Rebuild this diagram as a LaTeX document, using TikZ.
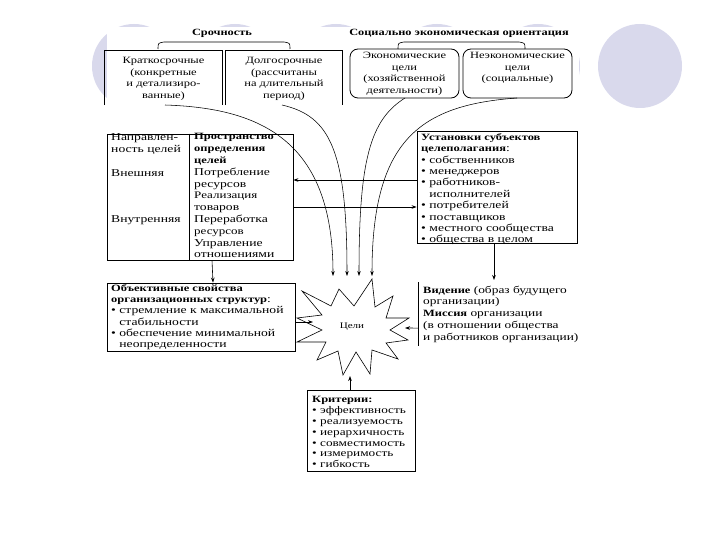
\documentclass[tikz,border=0pt]{standalone}
\usepackage{fontspec}
\setmainfont{Liberation Serif}[FakeStretch=1.3]
\usetikzlibrary{arrows.meta,calc}
\definecolor{lav}{RGB}{217,217,236}
\tikzset{
  box/.style={draw, line width=0.8pt, inner sep=0pt},
  ttl/.style={inner sep=0pt, font=\bfseries\fontsize{9.5}{11}\selectfont},
  ctxt/.style={inner sep=0pt, align=center, font=\fontsize{9.6}{11.5}\selectfont},
  ltxt/.style={inner sep=0pt, align=left, anchor=north west, font=\fontsize{10.5}{11.8}\selectfont},
  arr/.style={-{Stealth[length=5pt,width=3.6pt]}, line width=0.6pt},
  curvearr/.style={-{Stealth[length=5pt,width=3.4pt]}, line width=0.55pt},
  brk/.style={line width=0.6pt}
}
\newcommand{\bl}{\textbullet\ }
\newcommand{\ind}{\hphantom{\textbullet\ }}
\newcommand{\hb}[1]{{\fontsize{9.6}{11}\selectfont\bfseries #1}}
\begin{document}
\begin{tikzpicture}[x=1pt,y=-1pt]
\useasboundingbox (0,0) rectangle (720,540);
% background slide decoration
\foreach \cx in {134,235,336,437,538,640} \fill[lav] (\cx,66) circle[radius=42pt];
\fill[white] (107,27) rectangle (579,109);

% titles and brackets
\node[ttl] (tsr) at (222,33) {Срочность};
\node[ttl] (tso) at (459,33) {Социально экономическая ориентация};
\draw[brk] (158,49) .. controls (158,43) .. (164,42) -- (284,42) .. controls (290,43) .. (290,49);
\draw[brk] (398,49) .. controls (398,43) .. (404,42) -- (519,42) .. controls (525,43) .. (525,49);

% top row boxes
\node[inner sep=0pt, minimum width=117pt, minimum height=54pt] (b1) at (163.5,78) {};
\draw[line width=0.8pt] (b1.south west) |- (b1.north east) -- (b1.south east);
\node[ctxt] (b1t) at (163.5,79) {Краткосрочные\\(конкретные\\и детализиро-\\ванные)};
\node[inner sep=0pt, minimum width=116pt, minimum height=54pt] (b2) at (284,78) {};
\draw[line width=0.8pt] (b2.south west) |- (b2.north east) -- (b2.south east);
\node[ctxt] (b2t) at (284,79) {Долгосрочные\\(рассчитаны\\на длительный\\период)};
\node[box, rounded corners=8pt, minimum width=109pt, minimum height=49pt] (b3) at (404.5,73.5) {};
\node[ctxt] (b3t) at (404.5,74) {Экономические\\цели\\(хозяйственной\\деятельности)};
\node[box, rounded corners=8pt, minimum width=109pt, minimum height=49pt] (b4) at (517.5,73.5) {};
\node[ctxt] (b4t) at (517.5,68) {Неэкономические\\цели\\(социальные)};

% goal star
\node[inner sep=0pt, font=\fontsize{8.5}{10}\selectfont] (goal) at (352,327) {Цели};
\draw[line width=0.6pt] (339,289) -- (354,306) -- (372,279) -- (375,307) -- (393,296) -- (386,318)
  -- (409,318) -- (390,330) -- (408,340) -- (386,343) -- (398,359) -- (372,350) -- (370,374)
  -- (356,352) -- (343,375) -- (338,351) -- (317,360) -- (326,342) -- (297,342) -- (322,330)
  -- (297,318) -- (322,315) -- (302,291) -- (331,306) -- cycle;
\coordinate (g1) at (333,276);
\coordinate (g2) at (347,276);
\coordinate (g3) at (359,276);
\coordinate (g4) at (372,276);
\coordinate (gl) at (313,322);
\coordinate (gr) at (405,328);
\coordinate (gb) at (350,376);

% curves from the top row into the goal
\coordinate (c1) at (165,105);
\coordinate (c2) at (282,105);
\coordinate (c3) at (405,98);
\coordinate (c4) at (517,98);
\draw[curvearr] (c1) .. controls (260,108) and (333,140) .. (g1);
\draw[curvearr] (c2) .. controls (330,116) and (347,150) .. (g2);
\draw[curvearr] (c3) .. controls (370,120) and (359,160) .. (g3);
\draw[curvearr] (c4) .. controls (420,105) and (372,140) .. (g4);

% middle left table
\node[box, minimum width=186pt, minimum height=126pt] (tbl) at (200,197) {};
\draw[line width=0.8pt] ([xshift=83pt]tbl.north west) -- ([xshift=83pt]tbl.south west);
\node[ltxt] (tl1) at (111,133.5) {Направлен-\\ность целей};
\node[ltxt] (tl2) at (111,169.5) {Внешняя};
\node[ltxt] (tl3) at (111,215.5) {Внутренняя};
\node[ltxt] (tr) at (194,133.5) {\hb{Пространство}\\\hb{определения}\\\hb{целей}\\Потребление\\ресурсов\\{\fontsize{10}{11}\selectfont Реализация}\\товаров\\Переработка\\{\fontsize{10}{11}\selectfont ресурсов}\\Управление\\отношениями};

% middle right box
\node[box, minimum width=160pt, minimum height=112pt] (inst) at (497,187) {};
\node[ltxt, font=\fontsize{10.5}{11.35}\selectfont] (instt) at (421,133.5) {\hb{Установки субъектов}\\\hb{целеполагания}:\\\bl собственников\\\bl менеджеров\\\bl работников-\\\ind исполнителей\\\bl потребителей\\\bl поставщиков\\\bl местного сообщества\\\bl общества в целом};

\draw[arr] ([yshift=7pt]inst.west) -- ([yshift=17pt]tbl.east);
\draw[arr] ([yshift=-10pt]tbl.east) -- ([yshift=-20pt]inst.west);

% bottom left box
\node[box, minimum width=188pt, minimum height=68pt] (obj) at (201,317) {};
\node[ltxt, font=\fontsize{10.5}{11.2}\selectfont] (objt) at (111,284.5) {\hb{Объективные свойства}\\\hb{организационных структур}:\\\bl стремление к максимальной\\\ind стабильности\\\bl обеспечение минимальной\\\ind неопределенности};
\draw[arr] ([xshift=12pt]tbl.south) -- ([xshift=12pt]obj.north);
\draw[arr] ([yshift=-5pt]obj.east) -- (gl);

% vision / mission
\coordinate (vt) at (418,282);
\coordinate (vb) at (418,346);
\draw[line width=0.8pt] (vt) -- (vb);
\node[ltxt, font=\fontsize{10.3}{11.75}\selectfont] (vis) at (423,285.5) {\hb{Видение} (образ будущего\\организации)\\\hb{Миссия} организации\\(в отношении общества\\и работников организации)};
\coordinate (visin) at (494,280);
\draw[arr] ([xshift=-3pt]inst.south) -- (visin);
\draw[arr] ($(vt)!0.72!(vb)$) -- (gr);

% criteria
\node[box, minimum width=108pt, minimum height=81pt] (crit) at (361,430.5) {};
\node[ltxt, font=\fontsize{10.2}{10.9}\selectfont] (critt) at (312,396) {\hb{Критерии:}\\\bl эффективность\\\bl реализуемость\\\bl иерархичность\\\bl совместимость\\\bl измеримость\\\bl гибкость};
\draw[arr] ([xshift=-11pt]crit.north) -- (gb);
\end{tikzpicture}
\end{document}
